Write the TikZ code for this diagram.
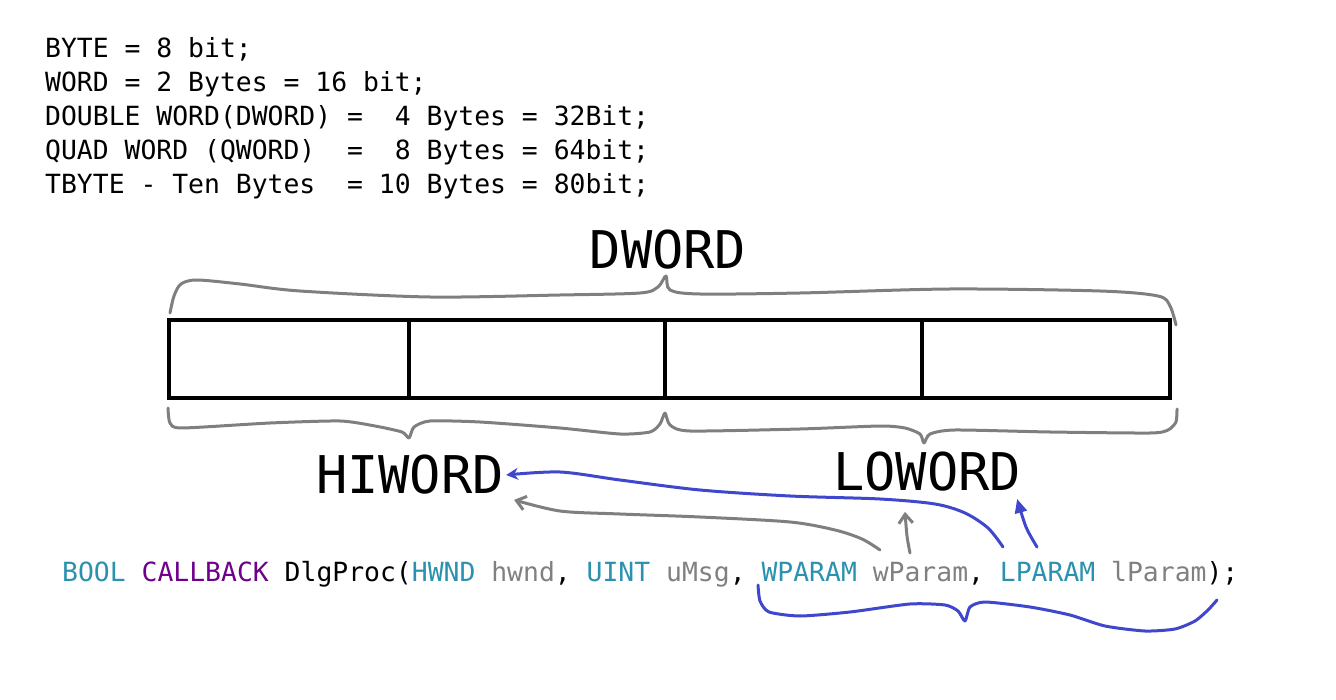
\documentclass[tikz,border=0pt]{standalone}
\usepackage{fontspec}
\newfontfamily\codefont{DejaVu Sans Mono}
\usepackage{tikz}
\usetikzlibrary{arrows.meta, positioning}
\definecolor{vstype}{HTML}{2B91AF}
\definecolor{vsmacro}{HTML}{6F008A}
\definecolor{vsparam}{HTML}{808080}
\definecolor{penblue}{HTML}{3F48CC}
\definecolor{pengray}{HTML}{7F7F7F}
\newcommand{\ty}[1]{\textcolor{vstype}{#1}}
\newcommand{\pa}[1]{\textcolor{vsparam}{#1}}
\tikzset{
  deftext/.style={anchor=base west, inner sep=0pt, font=\codefont\fontsize{26.4}{34}\selectfont},
  biglabel/.style={inner sep=2pt, font=\codefont\fontsize{52}{60}\selectfont},
  cell/.style={draw, line width=4pt, minimum height=78pt, outer sep=0pt, inner sep=0pt},
  graypen/.style={draw=pengray, line width=3pt, line cap=round, line join=round},
  bluepen/.style={draw=penblue, line width=3pt, line cap=round, line join=round}
}

\begin{document}
\begin{tikzpicture}[x=1pt, y=-1pt]
\useasboundingbox (0,0) rectangle (1336,700);
\node (l1) at (45,58) [deftext] {BYTE = 8 bit;};
\node (l2) at (45,92) [deftext] {WORD = 2 Bytes = 16 bit;};
\node (l3) at (45,126) [deftext] {DOUBLE WORD(DWORD) =~~4 Bytes = 32Bit;};
\node (l4) at (45,160) [deftext] {QUAD WORD (QWORD)~~=~~8 Bytes = 64bit;};
\node (l5) at (45,194) [deftext] {TBYTE - Ten Bytes~~= 10 Bytes = 80bit;};

\node (dword) at (668,250) [biglabel] {DWORD};
\node (hiword) at (410,475) [biglabel] {HIWORD};
\node (loword) at (927,472) [biglabel] {LOWORD};

\node (b1) at (289,359) [cell, minimum width=240pt] {};
\node (b2) [cell, minimum width=256pt, right=0pt of b1] {};
\node (b3) [cell, minimum width=257pt, right=0pt of b2] {};
\node (b4) [cell, minimum width=248pt, right=0pt of b3] {};

\node (code) at (62,581) [deftext] {\ty{BOOL} \textcolor{vsmacro}{CALLBACK} DlgProc(\ty{HWND} \pa{hwnd}, \ty{UINT} \pa{uMsg}, \ty{WPARAM} \pa{wParam}, \ty{LPARAM} \pa{lParam});};

\draw[graypen] plot[smooth, tension=0.5] coordinates {(170,313) (174,296) (181,284) (197,280) (240,284) (300,291) (430,297) (560,295) (640,293) (658,287) (666,276) (670,290) (700,294) (800,293) (950,289) (1100,291) (1158,296) (1170,306) (1176,325)};
\draw[graypen] plot[smooth, tension=0.4] coordinates {(168,408) (170,423) (182,428) (270,423) (340,421) (375,426) (402,432) (409,438) (414,427) (430,421) (480,422) (560,428) (620,434) (650,432) (660,424) (665,413) (670,425) (690,431) (800,429) (880,426) (905,428) (920,434) (924,443) (930,434) (955,430) (1050,432) (1150,433) (1168,430) (1176,422) (1177,409)};
\draw[bluepen] plot[smooth, tension=0.4] coordinates {(758,585) (760,601) (769,612) (800,616) (850,612) (910,604) (945,605) (958,611) (965,621) (970,607) (985,602) (1030,607) (1070,615) (1105,626) (1145,631) (1175,629) (1195,621) (1208,610) (1217,600)};

\coordinate (wpgray) at (880,550);
\coordinate (wpshort) at (910,553);
\coordinate (lpblue) at (1003,547);
\coordinate (lpshort) at (1037,547);

\draw[graypen, -{Straight Barb[length=9pt, width=14pt]}] plot[smooth] coordinates {(wpgray) (862,539) (835,530) (790,522) (700,517) (620,514) (560,511) ([shift={(8,3)}]hiword.south east)};
\draw[graypen, -{Straight Barb[length=9pt, width=14pt]}] plot[smooth] coordinates {(wpshort) (907,536) ([shift={(-22,18)}]loword.south)};
\draw[bluepen, -{Stealth[length=12pt, width=12pt]}] plot[smooth] coordinates {(lpblue) (988,528) (965,513) (935,504) (880,499) (790,496) (700,490) (620,480) (560,472) (hiword.east)};
\draw[bluepen, -{Triangle[length=14pt, width=12pt]}] plot[smooth] coordinates {(lpshort) (1026,527) ([shift={(-6,5)}]loword.south east)};
\end{tikzpicture}
\end{document}
